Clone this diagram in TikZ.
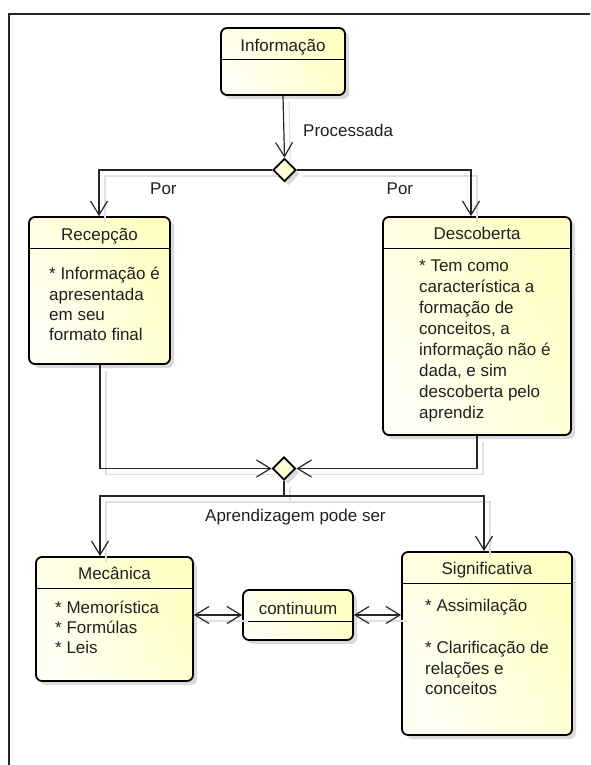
\documentclass[tikz,border=0pt]{standalone}
\usepackage{fontspec}
\setmainfont{Liberation Sans}
\usetikzlibrary{arrows.meta,shapes.geometric,shadows}
\definecolor{yA}{HTML}{FFFFF4}
\definecolor{yB}{HTML}{FFFFC4}
\definecolor{txt}{HTML}{202020}
\begin{document}
\begin{tikzpicture}[x=1pt,y=-1pt,
  box/.style={draw=black, line width=1.8pt, rounded corners=6pt, inner sep=0pt,
    left color=yA, right color=yB, shading angle=120,
    drop shadow={shadow xshift=4pt, shadow yshift=-4pt, fill=black!18, opacity=0.8}},
  hdr/.style={draw=black, line width=1pt},
  ttl/.style={font=\fontsize{17}{20.6}\selectfont, text=txt, inner sep=0pt, anchor=base},
  body/.style={font=\fontsize{17}{20.6}\selectfont, text=txt, inner sep=0pt, align=left, anchor=base west},
  lbl/.style={font=\fontsize{17}{20.6}\selectfont, text=txt, inner sep=0pt, anchor=base west},
  dia/.style={diamond, aspect=1, draw=black, line width=1.8pt, fill=yA!40!yB, inner sep=0pt,
    minimum width=23pt, minimum height=23pt,
    drop shadow={shadow xshift=4pt, shadow yshift=-4pt, fill=black!18, opacity=0.8}},
  conn/.style={draw=black!85, line width=1.2pt,
    preaction={-, draw=black!12, line width=1.2pt, transform canvas={shift={(6pt,-6pt)}}}},
  >={Straight Barb[length=14pt,width=17pt]}
]
\useasboundingbox (0,0) rectangle (590,765);
% frame
\coordinate (fTR) at (590,14);
\coordinate (fTL) at (9,14);
\coordinate (fBL) at (9,765);
\draw[line width=2pt, black!85] (fTR) -- (fTL) -- (fBL);

% boxes
\node[box, minimum width=124pt, minimum height=67pt] (info) at (283,61.5) {};
\node[box, minimum width=141pt, minimum height=147pt] (rec) at (99.5,290.5) {};
\node[box, minimum width=188pt, minimum height=218pt] (desc) at (477,326) {};
\node[box, minimum width=157pt, minimum height=124pt] (mec) at (114.5,619) {};
\node[box, minimum width=110pt, minimum height=50pt] (cont) at (298,615) {};
\node[box, minimum width=170pt, minimum height=183pt] (sig) at (487,643.5) {};

% header lines
\foreach \b in {info,rec,desc,mec,cont,sig}{
  \draw[hdr] ([yshift=-32pt]\b.north west) -- ([yshift=-32pt]\b.north east);
}

% titles
\node[ttl] (infoT) at ([yshift=-24pt]info.north) {Informação};
\node[ttl] (recT) at ([yshift=-24pt]rec.north) {Recepção};
\node[ttl] (descT) at ([yshift=-23.5pt]desc.north) {Descoberta};
\node[ttl] (mecT) at ([yshift=-23.5pt]mec.north) {Mecânica};
\node[ttl] (contT) at ([yshift=-25pt]cont.north) {continuum};
\node[ttl] (sigT) at ([yshift=-23.5pt]sig.north) {Significativa};

% bodies (base anchor = last line baseline)
\node[body, font=\fontsize{17}{20.2}\selectfont] (recB) at (49,340.5) {* Informação é\\apresentada\\em seu\\formato final};
\node[body, font=\fontsize{17}{20.9}\selectfont] (descB) at (419,418) {* Tem como\\característica a\\formação de\\conceitos, a\\informação não é\\dada, e sim\\descoberta pelo\\aprendiz};
\node[body, font=\fontsize{17}{20}\selectfont] (mecB) at (55,653.3) {* Memorística\\* Formúlas\\* Leis};
\node[body, font=\fontsize{17}{20.8}\selectfont] (sigB) at (425,694.9) {* Assimilação\\\mbox{}\\* Clarificação de\\relações e\\conceitos};

% diamonds
\node[dia] (d1) at (284.5,170) {};
\node[dia] (d2) at (284,468.5) {};

% connectors
\draw[conn,->] (info.south) -- (d1.north);
\draw[conn,->] (d1.west) -| ([xshift=-0.5pt]rec.north);
\draw[conn,->] (d1.east) -| ([xshift=-6pt]desc.north);
\draw[conn,->] ([xshift=0.5pt]rec.south) |- (d2.west);
\draw[conn,->] (desc.south) |- (d2.east);
\coordinate (j) at (284,496);
\draw[conn] (d2.south) -- (j);
\draw[conn,->] (j) -| ([xshift=-14.5pt]mec.north);
\draw[conn,->] (j) -| ([xshift=-3pt]sig.north);
\draw[conn,<->] (cont.west -| mec.east) -- (cont.west);
\draw[conn,<->] (cont.east) -- (cont.east -| sig.west);

% labels
\node[lbl] (lProc) at (303,136) {Processada};
\node[lbl] (lPorL) at (150,194) {Por};
\node[lbl] (lPorR) at (386.5,194) {Por};
\node[lbl] (lApr) at (205,521.7) {Aprendizagem pode ser};
\end{tikzpicture}
\end{document}
